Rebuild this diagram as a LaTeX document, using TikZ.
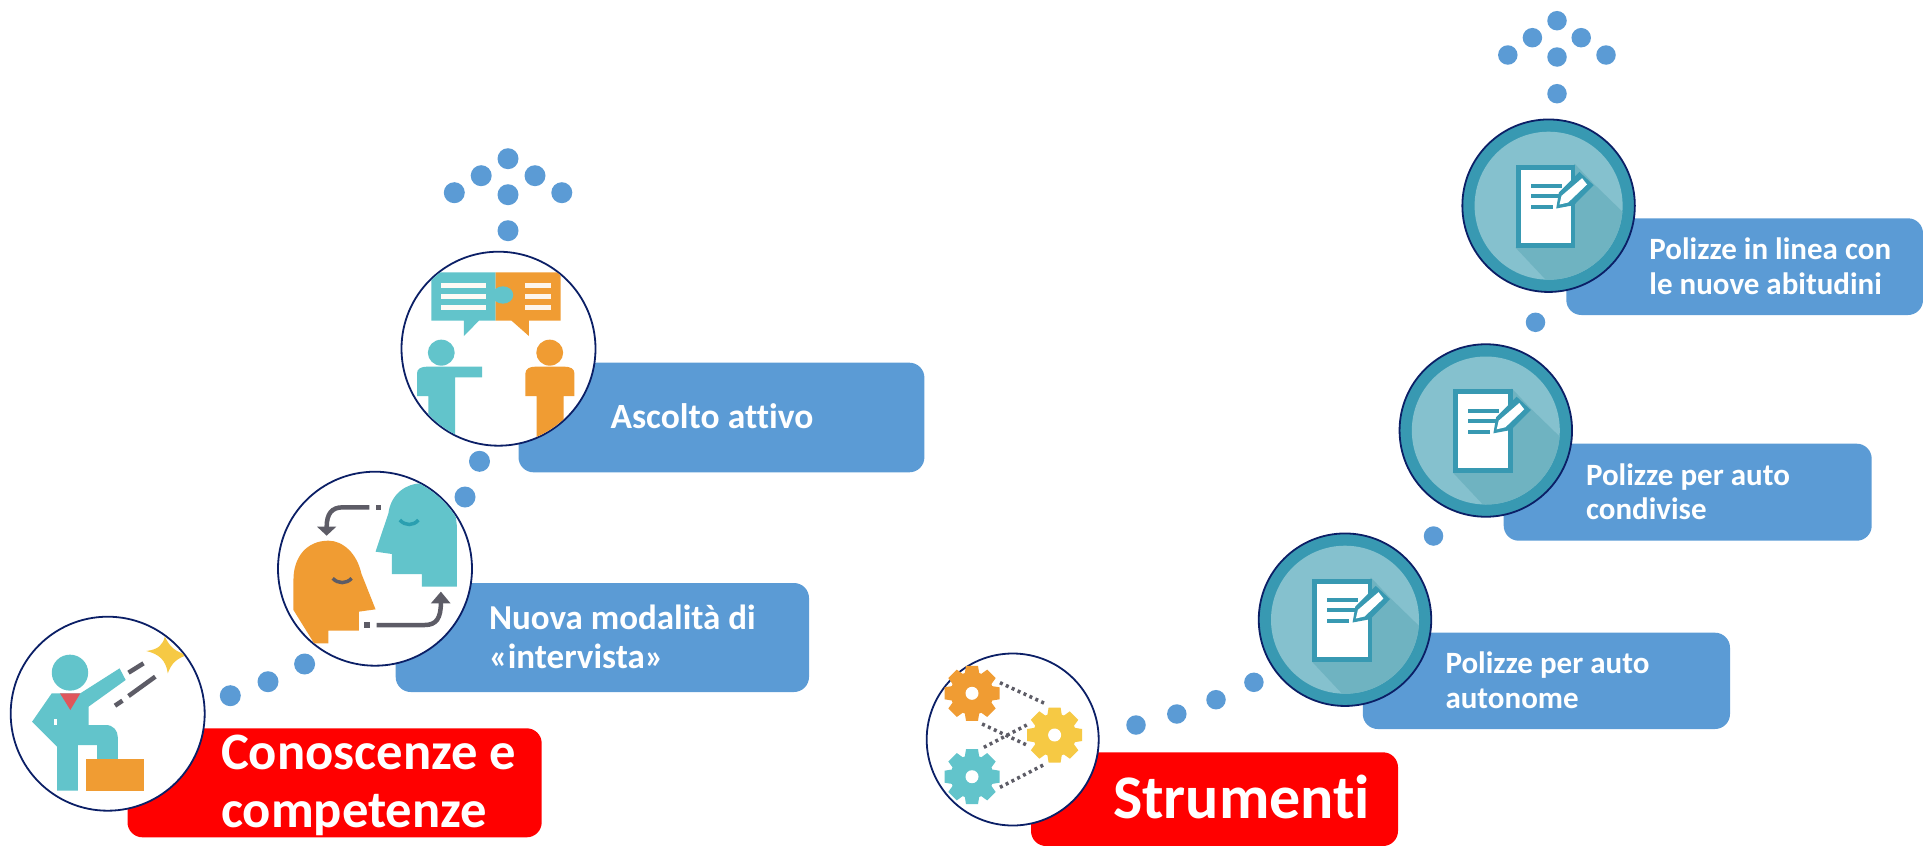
\documentclass[tikz,border=0pt]{standalone}
\usepackage{fontspec}
\setmainfont[Ligatures=NoCommon]{Carlito}
\definecolor{pblue}{HTML}{5B9BD5}
\definecolor{pred}{HTML}{FF0000}
\definecolor{navy}{HTML}{0B1F66}
\definecolor{ringc}{HTML}{3899B2}
\definecolor{innerc}{HTML}{85C1CE}
\definecolor{shadc}{HTML}{6FB3C1}
\definecolor{tealc}{HTML}{62C4CB}
\definecolor{orangec}{HTML}{F09C33}
\definecolor{yellowc}{HTML}{F6C944}
\definecolor{grayc}{HTML}{5D5C66}
\definecolor{redc}{HTML}{E0565B}
\definecolor{eyec}{HTML}{2A9FB0}
\tikzset{
  panel/.style={rectangle,rounded corners=15pt,inner sep=0pt,outer sep=0pt,fill=pblue},
  redpanel/.style={panel,fill=pred},
  dotnode/.style={circle,fill=pblue,inner sep=0pt,outer sep=0pt,minimum size=#1},
  dotnode/.default=21pt,
  smalldot/.style={dotnode=19.5pt},
  iconring/.style={circle,draw=navy,line width=1.8pt,fill=white,inner sep=0pt,outer sep=0pt},
  label/.style={anchor=base west,inner sep=0pt,outer sep=0pt,text=white,align=left,font=\bfseries,yshift=-1.5pt},
  grayline/.style={draw=grayc,line width=4.5pt},
  gearline/.style={draw=grayc,line width=3.5pt,dash pattern=on 3pt off 3.5pt},
}
\newcommand{\docicon}[3]{%
  \node[iconring,fill=ringc,minimum size=172.5pt] (#1) at (#2,#3) {};
  \begin{scope}[shift={(#2,#3)}]
    \fill[innerc] (0,0) circle (74);
    \begin{scope}
      \clip (0,0) circle (74);
      \fill[shadc] (-33,42) -- (-2,75) -- (80,75) -- (80,12) -- (45,-22) -- (26,-42) -- cycle;
    \end{scope}
    \fill[ringc] (-32.8,-41.2) rectangle (26.8,42.2);
    \fill[white] (-27.8,-36.2) rectangle (22.5,37.2);
    \fill[ringc] (-18,-21.5) rectangle (13,-17.5);
    \fill[ringc] (-18,-11.5) rectangle (10,-7.5);
    \fill[ringc] (-18,-0.8) rectangle (4,3.2);
    \fill[ringc] (7.6,2.8) -- (10.3,-13.2) -- (30.8,-33.8) -- (45,-20.5) -- (25.2,-0.5) -- cycle;
    \fill[white] (10.9,-1.2) -- (12.9,-9.8) -- (33.5,-27.5) -- (38.4,-21.2) -- (19.5,-3.2) -- cycle;
  \end{scope}
}
\newcommand{\geargl}[3]{%
  \begin{scope}[shift={(#1,#2)}]
    \fill[#3] (0,0) circle (21.5);
    \foreach \a in {0,45,...,315}{
      \fill[#3,rotate=\a] (-8,15) -- (8,15) -- (6,27.5) -- (-6,27.5) -- cycle;
    }
    \fill[white] (0,0) circle (6.5);
  \end{scope}
}
\begin{document}
\begin{tikzpicture}[x=1pt,y=-1pt]
\useasboundingbox (0,0) rectangle (1923,846);
% ---- panels
\node[redpanel,minimum width=414.2pt,minimum height=109pt] (pconos) at (334.6,782.8) {};
\node[panel,minimum width=413.3pt,minimum height=109pt] (pnuova) at (602.35,637.5) {};
\node[panel,minimum width=405.9pt,minimum height=109.6pt] (pascolto) at (721.45,417.5) {};
\node[redpanel,minimum width=367pt,minimum height=93.7pt] (pstrum) at (1214.5,799.15) {};
\node[panel,minimum width=367.2pt,minimum height=96.3pt] (pauto) at (1546.4,680.85) {};
\node[panel,minimum width=368pt,minimum height=97pt] (pcond) at (1687.7,492.2) {};
\node[panel,minimum width=356.7pt,minimum height=96.7pt] (plinea) at (1744.65,266.65) {};
% ---- dots left
\node[dotnode] (a1) at (230.3,695.7) {};
\node[dotnode] (a2) at (268,681.7) {};
\node[dotnode] (a3) at (304.6,664) {};
\node[dotnode] (a4) at (465,497) {};
\node[dotnode] (a5) at (479.5,461.3) {};
\node[dotnode] (a6) at (508,230.7) {};
\node[dotnode] (a7) at (508,194.7) {};
\node[dotnode] (a8) at (454.3,192.7) {};
\node[dotnode] (a9) at (561.8,192.7) {};
\node[dotnode] (a10) at (481.2,175.7) {};
\node[dotnode] (a11) at (535,175.7) {};
\node[dotnode] (a12) at (508,158.7) {};
% ---- dots right
\node[smalldot] (b1) at (1136,725) {};
\node[smalldot] (b2) at (1176.8,714) {};
\node[smalldot] (b3) at (1216,699.7) {};
\node[smalldot] (b4) at (1253.9,682.3) {};
\node[smalldot] (b5) at (1433.5,536) {};
\node[smalldot] (b6) at (1535.5,322.3) {};
\node[smalldot] (b7) at (1557,93.7) {};
\node[smalldot] (b8) at (1557,57) {};
\node[smalldot] (b9) at (1507.8,55) {};
\node[smalldot] (b10) at (1606,55) {};
\node[smalldot] (b11) at (1532.4,37.7) {};
\node[smalldot] (b12) at (1581.2,37.7) {};
\node[smalldot] (b13) at (1557,20.7) {};
% ---- icon 1: person on step
\node[iconring,minimum size=194pt] (c1) at (107.7,713.7) {};
\begin{scope}
  \clip (107.7,713.7) circle (96);
  \begin{scope}[yshift=-450pt,x=0.357pt,y=-0.33333pt]
    \fill[tealc] (196,668) ellipse (51 and 54);
    \fill[tealc] (145,730) -- (225,730) -- (335,655) -- (352,690) -- (248,770) -- (248,825) -- (296,825)
       .. controls (318,825) and (330,842) .. (330,862) -- (330,935) -- (272,935) -- (272,885) -- (218,885)
       -- (218,1022) -- (160,1022) -- (160,890) -- (90,815) -- cycle;
    \fill[white] (150,808) rectangle (160,826);
    \fill[redc] (168,730) -- (225,730) -- (197,780) -- cycle;
    \fill[orangec] (242,928) rectangle (403,1022);
    \fill[yellowc] (410,603) .. controls (445,598) and (455,585) .. (462,560)
       .. controls (475,590) and (490,605) .. (525,615)
       .. controls (495,625) and (480,640) .. (470,670)
       .. controls (465,630) and (445,612) .. (410,603) -- cycle;
    \draw[grayline] (360,668) -- (402,640);
    \draw[grayline] (360,738) -- (435,680);
    \draw[grayline] (322,767) -- (343,752);
  \end{scope}
\end{scope}
% ---- icon 2: heads
\node[iconring,minimum size=194pt] (c2) at (375,568.7) {};
\begin{scope}
  \clip (375,568.7) circle (96);
  \begin{scope}[yshift=-450pt,x=0.357pt,y=-0.33333pt]
    \fill[tealc] (1280,410) -- (1182,410) -- (1182,372) -- (1098,372) -- (1098,312) -- (1052,305) -- (1088,190)
       .. controls (1095,130) and (1140,100) .. (1180,100)
       .. controls (1240,105) and (1280,160) .. (1280,240) -- cycle;
    \fill[orangec] (920,580) -- (920,542) -- (1005,542) -- (1005,485) -- (1052,478) -- (1012,370)
       .. controls (1000,310) and (960,272) .. (920,272)
       .. controls (860,272) and (822,320) .. (822,390) -- (822,480) -- (880,580) -- cycle;
    \draw[eyec,line width=3.5pt] (1120,210) .. controls (1135,228) and (1158,228) .. (1172,210);
    \draw[grayc,line width=3.5pt] (932,385) .. controls (947,402) and (970,402) .. (985,385);
    \draw[grayline] (1035,172) -- (960,172) .. controls (930,172) and (915,190) .. (915,232);
    \fill[grayc] (888,230) -- (942,230) -- (915,257) -- cycle;
    \fill[grayc] (1052,164) rectangle (1068,181);
    \draw[grayline] (1055,525) -- (1190,525) .. controls (1222,525) and (1235,505) .. (1235,458);
    \fill[grayc] (1207,460) -- (1262,460) -- (1235,425) -- cycle;
    \fill[grayc] (1020,517) rectangle (1036,533);
  \end{scope}
\end{scope}
% ---- icon 3: conversation
\node[iconring,minimum size=194pt] (c3) at (498.5,348.7) {};
\begin{scope}
  \clip (498.5,348.7) circle (96);
  \begin{scope}[xshift=260pt,yshift=-130pt,x=0.4337pt,y=-0.33333pt]
    \fill[tealc] (395,427) -- (543,427) -- (543,572) -- (505,572) -- (470,618) -- (470,572) -- (395,572) -- cycle;
    \fill[orangec] (543,427) -- (693,427) -- (693,572) -- (620,572) -- (620,618) -- (580,572) -- (543,572) -- cycle;
    \fill[tealc] (560,495) ellipse (24 and 26);
    \foreach \yy in {466,499,532}{
      \fill[white!95!orangec] (418,\yy-8) rectangle (520,\yy+8);
      \fill[white!90!orangec] (612,\yy-8) rectangle (670,\yy+8);
    }
    \fill[tealc] (418,668) ellipse (31 and 39);
    \fill[tealc] (362,798) -- (362,730) .. controls (362,716) and (372,710) .. (385,710) -- (512,710) -- (512,742)
       -- (450,742) -- (450,930) -- (388,930) -- (388,798) -- cycle;
    \fill[orangec] (668,668) ellipse (31 and 39);
    \fill[orangec] (612,798) -- (612,730) .. controls (612,716) and (622,710) .. (635,710) -- (702,710)
       .. controls (715,710) and (725,716) .. (725,730) -- (725,798) -- (700,798) -- (700,930) -- (638,930) -- (638,798) -- cycle;
  \end{scope}
\end{scope}
% ---- icon 4: gears
\node[iconring,minimum size=172pt] (c4) at (1012.7,739.5) {};
\begin{scope}[xshift=900pt,yshift=-500pt,x=0.357pt,y=-0.33333pt]
  \draw[gearline] (280,548) -- (405,610);
  \draw[gearline] (230,672) -- (355,735);
  \draw[gearline] (235,742) -- (355,675);
  \draw[gearline] (280,862) -- (405,793);
\end{scope}
\geargl{972}{693.3}{orangec}
\geargl{1054.6}{735}{yellowc}
\geargl{972}{776.7}{tealc}
% ---- document icons
\docicon{d1}{1345}{619.7}
\docicon{d2}{1485.8}{430.5}
\docicon{d3}{1548.6}{205.7}
% ---- labels
\node[label,font=\bfseries\fontsize{52.6}{58}\selectfont] (tconos) at (221,826) {Conoscenze e\\competenze};
\node[label,font=\bfseries\fontsize{35}{39}\selectfont] (tnuova) at (489,666.7) {Nuova modalità di\\«intervista»};
\node[label,font=\bfseries\fontsize{35.5}{39}\selectfont] (tascolto) at (610.5,427.3) {Ascolto attivo};
\node[label,font=\bfseries\fontsize{62}{70}\selectfont] (tstrum) at (1113,817.3) {Strumenti};
\node[label,font=\bfseries\fontsize{31}{34.3}\selectfont] (tauto) at (1445.5,706.7) {Polizze per auto\\autonome};
\node[label,font=\bfseries\fontsize{31}{34.3}\selectfont] (tcond) at (1586,518.3) {Polizze per auto\\condivise};
\node[label,font=\bfseries\fontsize{31}{34.3}\selectfont] (tlinea) at (1649.4,292.7) {Polizze in linea con\\le nuove abitudini};
\end{tikzpicture}
\end{document}
